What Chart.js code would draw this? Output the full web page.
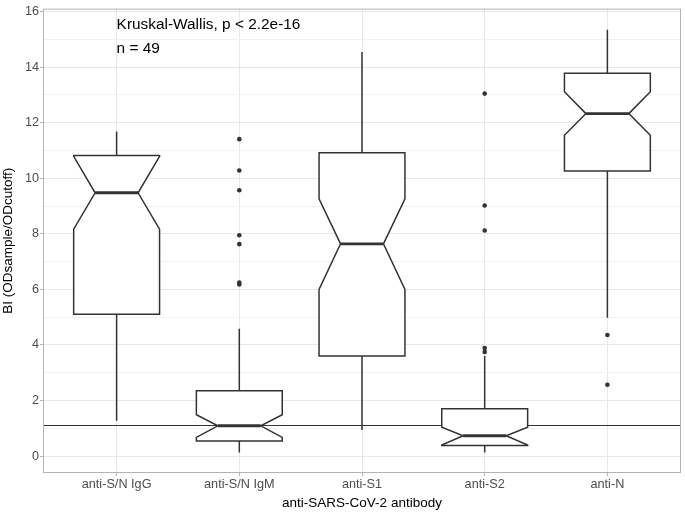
<!DOCTYPE html>
<html>
<head>
<meta charset="utf-8">
<script src="https://cdn.jsdelivr.net/npm/chart.js@4.4.1/dist/chart.umd.min.js"></script>
<style>
  html, body { margin: 0; padding: 0; background: #fff; }
  #wrap { width: 685px; height: 515px; }
</style>
</head>
<body>
<div id="wrap"><canvas id="myChart" width="685" height="515"></canvas></div>
<script>
// antibody groups and box statistics
const categories = ['anti-S/N IgG', 'anti-S/N IgM', 'anti-S1', 'anti-S2', 'anti-N'];
const whiskerLow  = [1.27, 0.13, 0.94, 0.13, 4.98];
const q1          = [5.11, 0.54, 3.60, 0.38, 10.26];
const notchLow    = [8.17, 0.67, 6.00, 0.40, 11.55];
const median      = [9.48, 1.09, 7.64, 0.73, 12.33];
const notchHigh   = [10.79, 1.49, 9.26, 1.04, 13.12];
const q3          = [10.82, 2.35, 10.92, 1.70, 13.78];
const whiskerHigh = [11.69, 4.58, 14.55, 3.60, 15.35];
const outliers = [
  [],
  [11.41, 10.28, 9.57, 7.95, 7.63, 6.25, 6.18],
  [],
  [13.05, 9.02, 8.12, 3.89, 3.75],
  [4.36, 2.57]
];
const cutoff = 1.1;
const yTicks = [0, 2, 4, 6, 8, 10, 12, 14, 16];
const annotations = ['Kruskal-Wallis, p < 2.2e-16', 'n = 49'];

const FONT = '"Liberation Sans", Arial, Helvetica, sans-serif';
const INK = '#333333';

const outlierPoints = [];
outliers.forEach((vals, i) => vals.forEach(v => outlierPoints.push({x: i + 1, y: v})));

const boxPlugin = {
  id: 'notchedBoxes',
  beforeDatasetsDraw(chart) {
    const {ctx, chartArea: a} = chart;
    const xs = chart.scales.x, ys = chart.scales.y;
    ctx.save();
    ctx.beginPath();
    ctx.rect(a.left, a.top, a.right - a.left, a.bottom - a.top);
    ctx.clip();

    // cutoff line
    ctx.strokeStyle = INK;
    ctx.lineWidth = 1.1;
    ctx.beginPath();
    const yc = ys.getPixelForValue(cutoff);
    ctx.moveTo(a.left, yc);
    ctx.lineTo(a.right, yc);
    ctx.stroke();

    categories.forEach((c, i) => {
      const xc = xs.getPixelForValue(i + 1);
      const x0 = xs.getPixelForValue(i + 1 - 0.35);
      const x1 = xs.getPixelForValue(i + 1 + 0.35);
      const n0 = xs.getPixelForValue(i + 1 - 0.175);
      const n1 = xs.getPixelForValue(i + 1 + 0.175);
      const y = v => ys.getPixelForValue(v);

      ctx.strokeStyle = INK;
      ctx.lineWidth = 1.5;
      ctx.lineJoin = 'miter';
      // whiskers
      ctx.beginPath();
      ctx.moveTo(xc, y(whiskerHigh[i]));
      ctx.lineTo(xc, y(q3[i]));
      ctx.moveTo(xc, y(q1[i]));
      ctx.lineTo(xc, y(whiskerLow[i]));
      ctx.stroke();

      // notched box
      ctx.beginPath();
      ctx.moveTo(x0, y(q1[i]));
      ctx.lineTo(x0, y(notchLow[i]));
      ctx.lineTo(n0, y(median[i]));
      ctx.lineTo(x0, y(notchHigh[i]));
      ctx.lineTo(x0, y(q3[i]));
      ctx.lineTo(x1, y(q3[i]));
      ctx.lineTo(x1, y(notchHigh[i]));
      ctx.lineTo(n1, y(median[i]));
      ctx.lineTo(x1, y(notchLow[i]));
      ctx.lineTo(x1, y(q1[i]));
      ctx.closePath();
      ctx.fillStyle = '#ffffff';
      ctx.fill();
      ctx.stroke();

      // median
      ctx.lineWidth = 2.9;
      ctx.beginPath();
      ctx.moveTo(n0, y(median[i]));
      ctx.lineTo(n1, y(median[i]));
      ctx.stroke();
    });
    ctx.restore();
  },
  afterDraw(chart) {
    const {ctx, chartArea: a} = chart;
    const xs = chart.scales.x, ys = chart.scales.y;
    ctx.save();
    // panel border
    ctx.strokeStyle = '#B3B3B3';
    ctx.lineWidth = 1;
    ctx.strokeRect(a.left + 0.5, a.top + 0.5, a.right - a.left - 1, a.bottom - a.top - 1);
    // annotation text
    ctx.fillStyle = '#000000';
    ctx.font = '15.4px ' + FONT;
    ctx.textAlign = 'left';
    ctx.textBaseline = 'middle';
    const tx = xs.getPixelForValue(1);
    ctx.fillText(annotations[0], tx, ys.getPixelForValue(15.53));
    ctx.fillText(annotations[1], tx, ys.getPixelForValue(14.68));
    ctx.restore();
  }
};

const ctx = document.getElementById('myChart').getContext('2d');
const myChart = new Chart(ctx, {
  type: 'scatter',
  data: {
    datasets: [{
      label: 'outliers',
      data: outlierPoints,
      backgroundColor: INK,
      borderColor: INK,
      pointRadius: 2.3,
      borderWidth: 0
    }]
  },
  options: {
    responsive: false,
    maintainAspectRatio: false,
    animation: false,
    layout: { padding: { top: 3, right: 1, left: 0, bottom: 0 } },
    plugins: {
      legend: { display: false },
      tooltip: { enabled: false }
    },
    scales: {
      x: {
        type: 'linear',
        min: 0.4,
        max: 5.6,
        afterFit: s => { s.height = 42; },
        afterBuildTicks: s => { s.ticks = categories.map((c, i) => ({value: i + 1})); },
        ticks: {
          autoSkip: false,
          maxRotation: 0,
          padding: 1,
          color: '#4D4D4D',
          font: { family: FONT, size: 12.7 },
          callback: v => categories[v - 1]
        },
        grid: { color: '#E8E8E8', lineWidth: 1, tickLength: 3, tickColor: '#B3B3B3' },
        border: { display: false },
        title: {
          display: true,
          text: 'anti-SARS-CoV-2 antibody',
          color: '#000000',
          font: { family: FONT, size: 13.5 },
          padding: { top: 0, bottom: 4 }
        }
      },
      y: {
        type: 'linear',
        min: -0.61,
        max: 16.11,
        afterFit: s => { s.width = 43; },
        afterBuildTicks: s => {
          const t = [];
          for (let v = 0; v <= 16; v++) t.push({value: v});
          s.ticks = t;
        },
        ticks: {
          autoSkip: false,
          padding: 1,
          color: '#4D4D4D',
          font: { family: FONT, size: 12.7 },
          callback: v => yTicks.includes(v) ? String(v) : ''
        },
        grid: {
          color: c => (c.tick && c.tick.value % 2 === 0) ? '#E8E8E8' : '#F2F2F2',
          lineWidth: 1,
          tickLength: 3,
          tickColor: c => (c.tick && c.tick.value % 2 === 0) ? '#B3B3B3' : 'rgba(0,0,0,0)'
        },
        border: { display: false },
        title: {
          display: true,
          text: 'BI (ODsample/ODcutoff)',
          color: '#000000',
          font: { family: FONT, size: 13.5 },
          padding: { top: 0, bottom: 0 }
        }
      }
    }
  },
  plugins: [boxPlugin]
});
</script>
</body>
</html>
